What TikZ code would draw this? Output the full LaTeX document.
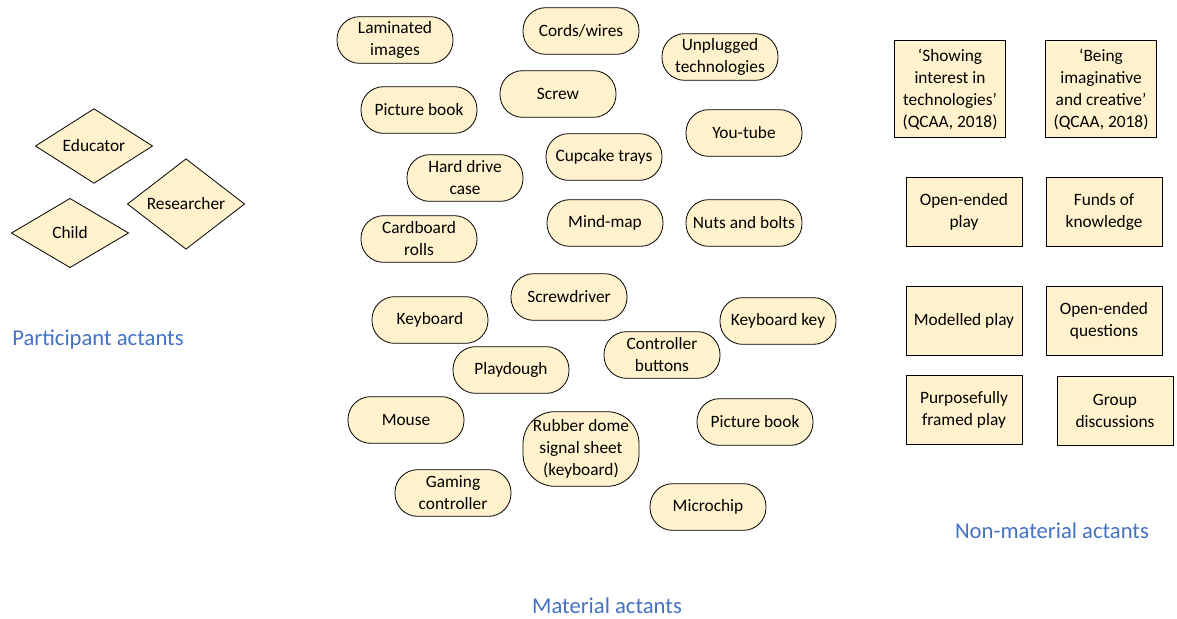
\documentclass[tikz,border=0pt]{standalone}
\usepackage{fontspec}
\setmainfont{Carlito}
\usetikzlibrary{shapes.geometric}
\definecolor{cream}{HTML}{FFF2CC}
\definecolor{labelblue}{HTML}{4472C4}
\tikzset{
  actor/.style={diamond, draw, fill=cream, line width=0.6pt, inner sep=0pt,
    minimum width=88pt, minimum height=52pt, font=\fontsize{13}{17}\selectfont},
  thing/.style={draw, fill=cream, line width=0.6pt, rounded corners=17pt,
    minimum width=87pt, minimum height=35pt, inner xsep=2pt, inner ysep=3pt,
    align=center, font=\fontsize{13}{16.5}\selectfont},
  idea/.style={draw, fill=cream, line width=0.6pt, minimum width=87pt,
    minimum height=52pt, align=center, font=\fontsize{13}{16.5}\selectfont},
  heading/.style={text=labelblue, font=\fontsize{17}{20}\selectfont}
}
\begin{document}
\begin{tikzpicture}[x=0.75pt, y=-0.75pt]
    \useasboundingbox (0,0) rectangle (1177,618);
    % participant actants
    \node[actor] (educator) at (94,146) {Educator};
    \node[actor] (researcher) at (186,204) {Researcher};
    \node[actor] (child) at (70,233) {Child};
    \node[heading] (lbl-part) at (98,339) {Participant actants};
    % material actants
    \foreach \nm/\x/\y/\txt in {
        lam/395/40/{Laminated\\images}, cords/581/31/{Cords/wires},
        unplug/720/57/{Unplugged\\technologies}, picbk1/419/110/{Picture book},
        screw/558/94/{Screw}, youtube/744/133/{You-tube},
        cupcake/604/157/{Cupcake trays}, hdd/465/178/{Hard drive\\case},
        cardb/419/239/{Cardboard\\rolls}, mindmap/605/223/{Mind-map},
        nuts/744/223/{Nuts and bolts}, screwdr/569/297/{Screwdriver},
        keyb/430/320/{Keyboard}, key/778/321/{Keyboard key},
        ctrl/662/355/{Controller\\buttons}, playd/511/370/{Playdough},
        mouse/406/420/{Mouse}, picbk2/755/422/{Picture book},
        chip/708/507/{Microchip}, gaming/453/493/{Gaming\\controller}}
    \node[thing] (m-\nm) at (\x,\y) {\txt};
    \node[thing, rounded corners=24pt, minimum height=56pt, inner xsep=0pt] (m-rubber) at (581,449)
        {Rubber dome\\signal sheet\\(keyboard)};
    \node[heading] (lbl-mat) at (607,606) {Material actants};
    % non-material actants
    \node[idea, minimum width=83pt, minimum height=73pt] (n-show) at (950,89)
        {`Showing\\interest in\\technologies'\\(QCAA, 2018)};
    \node[idea, minimum width=83pt, minimum height=73pt] (n-imag) at (1101,89)
        {`Being\\imaginative\\and creative'\\(QCAA, 2018)};
    \node[idea] (n-oep) at (964,212) {Open-ended\\play};
    \node[idea] (n-funds) at (1104,212) {Funds of\\knowledge};
    \node[idea] (n-model) at (964,321) {Modelled play};
    \node[idea] (n-oeq) at (1104,321) {Open-ended\\questions};
    \node[idea] (n-purp) at (964,410) {Purposefully\\framed play};
    \node[idea] (n-group) at (1115,411) {Group\\discussions};
    \node[heading] (lbl-non) at (1052,531) {Non-material actants};
\end{tikzpicture}
\end{document}
